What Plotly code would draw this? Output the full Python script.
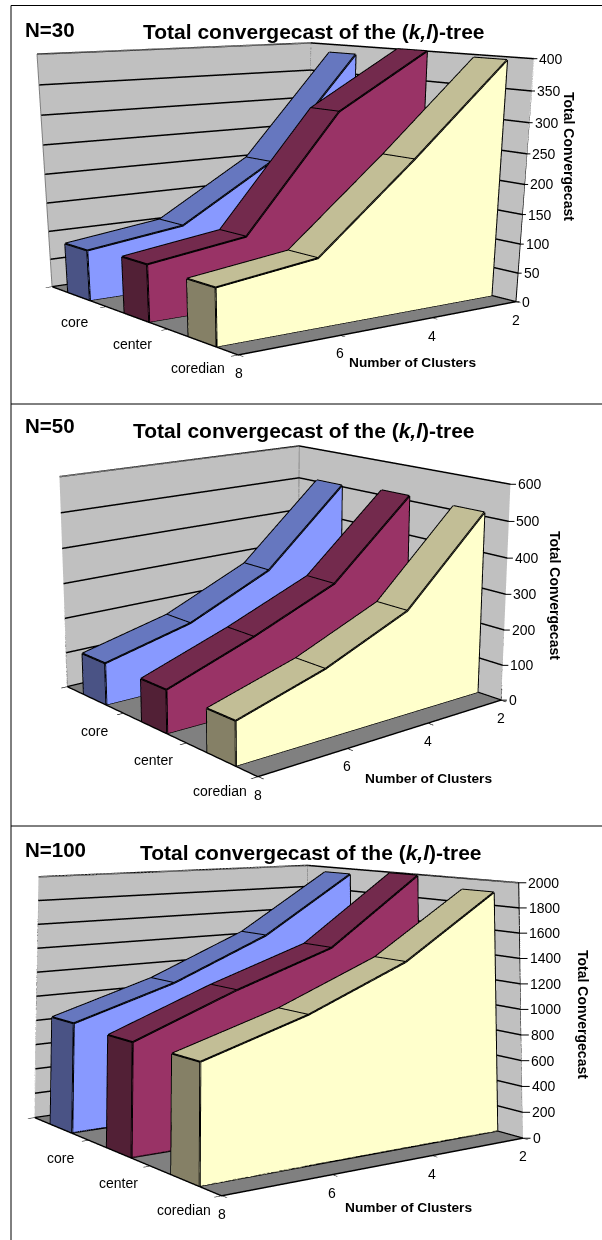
import plotly.graph_objects as go

W, H = 602, 1240
FONT = "Liberation Sans"

k_values = [2, 4, 6, 8]
series_names = ["core", "center", "coredian"]

n30_core = [385, 205, 109, 87]
n30_center = [400, 309, 118, 95]
n30_coredian = [395, 250, 113, 92]
n30_ticks = [0, 50, 100, 150, 200, 250, 300, 350, 400]

n50_core = [504, 286, 178, 118]
n50_center = [514, 302, 204, 118]
n50_coredian = [511, 286, 186, 115]
n50_ticks = [0, 100, 200, 300, 400, 500, 600]

n100_core = [1950, 1450, 1110, 863]
n100_center = [1990, 1430, 1160, 850]
n100_coredian = [1905, 1410, 1090, 850]
n100_ticks = [0, 200, 400, 600, 800, 1000, 1200, 1400, 1600, 1800, 2000]

FRONT = ["#8899FF", "#993366", "#FFFFCC"]
TOP = ["#6677BF", "#732A4D", "#C2BE96"]
END = ["#4A5385", "#522036", "#858066"]

X_RANGE = [1.99, 8.01]
Y_RANGE = [0, 3]

panels = [
    dict(name="scene", label="N=30", values=[n30_core, n30_center, n30_coredian], ticks=n30_ticks,
         dom_x=[0, 540 / W], dom_y=[(H - 1130) / H, 1], aspect=(1, 0.9907, 0.6709),
         eye=(2.4477, 3.2658, 0.5779), center=(0.2909, 0.349, -1.0259),
         title=(313.6, 32), tag=(23, 29), xt=(412.8, 362), zt=(569, 156), lab_shift=(-4, -26), tick_gap=4),
    dict(name="scene2", label="N=50", values=[n50_core, n50_center, n50_coredian], ticks=n50_ticks,
         dom_x=[0, 540 / W], dom_y=[(H - 1145) / H, 1], aspect=(1, 0.9958, 0.6994),
         eye=(2.7304, 3.2595, 1.1133), center=(0.0198, -0.0326, 0.0505),
         title=(304, 430.7), tag=(23, 426), xt=(428, 778), zt=(555, 595), lab_shift=(-1, -32), tick_gap=6),
    dict(name="scene3", label="N=100", values=[n100_core, n100_center, n100_coredian], ticks=n100_ticks,
         dom_x=[0, 550 / W], dom_y=[0, 1], aspect=(1, 1.0103, 0.7017),
         eye=(2.5318, 3.6202, 0.6518), center=(0.0581, 0.0993, 1.0999),
         title=(311.4, 852.7), tag=(23, 849), xt=(408.6, 1207), zt=(583, 1014), lab_shift=(-1, -30), tick_gap=8),
]

fig = go.Figure()
paper_ann = []


def ribbon(values, index, scene):
    y0, y1 = index + 0.3, index + 0.7
    n = len(k_values)
    xs, ys, zs, ii, jj, kk, colors = [], [], [], [], [], [], []

    def quad(a, b, c, d, col):
        base = len(xs)
        for p in (a, b, c, d):
            xs.append(p[0]); ys.append(p[1]); zs.append(p[2])
        ii.extend([base, base]); jj.extend([base + 1, base + 2]); kk.extend([base + 2, base + 3])
        colors.extend([col, col])

    for m in range(n - 1):
        ka, kb, va, vb = k_values[m], k_values[m + 1], values[m], values[m + 1]
        quad((ka, y1, 0), (kb, y1, 0), (kb, y1, vb), (ka, y1, va), FRONT[index])
        quad((ka, y0, 0), (kb, y0, 0), (kb, y0, vb), (ka, y0, va), FRONT[index])
        quad((ka, y0, va), (kb, y0, vb), (kb, y1, vb), (ka, y1, va), TOP[index])
    quad((k_values[-1], y0, 0), (k_values[-1], y1, 0), (k_values[-1], y1, values[-1]), (k_values[-1], y0, values[-1]), END[index])
    quad((k_values[0], y0, 0), (k_values[0], y1, 0), (k_values[0], y1, values[0]), (k_values[0], y0, values[0]), FRONT[index])
    fig.add_trace(go.Mesh3d(x=xs, y=ys, z=zs, i=ii, j=jj, k=kk, facecolor=colors, flatshading=True,
                            lighting=dict(ambient=1, diffuse=0, specular=0, roughness=1, fresnel=0),
                            hoverinfo="skip", showscale=False, scene=scene))
    lx, ly, lz = [], [], []

    def seg(points):
        for p in points:
            lx.append(p[0]); ly.append(p[1]); lz.append(p[2])
        lx.append(None); ly.append(None); lz.append(None)

    seg([(k_values[0], y1, 0), (k_values[-1], y1, 0)])
    seg([(k, y1, v) for k, v in zip(k_values, values)])
    seg([(k, y0, v) for k, v in zip(k_values, values)])
    for k, v in zip(k_values, values):
        seg([(k, y0, v), (k, y1, v)])
    seg([(k_values[0], y1, 0), (k_values[0], y1, values[0])])
    seg([(k_values[0], y0, 0), (k_values[0], y0, values[0])])
    seg([(k_values[-1], y1, 0), (k_values[-1], y1, values[-1])])
    seg([(k_values[-1], y0, 0), (k_values[-1], y0, values[-1])])
    seg([(k_values[-1], y0, 0), (k_values[-1], y1, 0)])
    fig.add_trace(go.Scatter3d(x=lx, y=ly, z=lz, mode="lines", line=dict(color="black", width=4),
                               hoverinfo="skip", showlegend=False, scene=scene))


for p in panels:
    top = p["ticks"][-1]
    for i, vals in enumerate(p["values"]):
        ribbon(vals, i, p["name"])
    xa, xb = X_RANGE
    wx = [xb, xa, None, xa, xa, None, xa, xa, None, xb, xb]
    wy = [0, 0, None, 0, 3, None, 0, 0, None, 0, 0]
    wz = [top, top, None, top, top, None, 0, top, None, 0, top]
    fig.add_trace(go.Scatter3d(x=wx, y=wy, z=wz, mode="lines", line=dict(color="#808080", width=2),
                               hoverinfo="skip", showlegend=False, scene=p["name"]))
    fig.add_trace(go.Scatter3d(x=[xa, xa], y=[3, 3], z=[0, top], mode="lines", line=dict(color="black", width=2),
                               hoverinfo="skip", showlegend=False, scene=p["name"]))
    anns = []
    for k in k_values:
        anns.append(dict(x=k, y=3, z=0, text=str(k), showarrow=False, yshift=-18,
                         font=dict(family=FONT, size=14, color="black")))
    for i, s in enumerate(series_names):
        anns.append(dict(x=8, y=i + 0.5, z=0, text=s, showarrow=False,
                         xshift=p["lab_shift"][0], yshift=p["lab_shift"][1],
                         font=dict(family=FONT, size=14, color="black")))
    for t in p["ticks"]:
        anns.append(dict(x=2, y=3, z=t, text=str(t), showarrow=True, arrowhead=0, arrowwidth=1,
                         arrowcolor="black", ax=p["tick_gap"], ay=0, xanchor="left",
                         font=dict(family=FONT, size=14, color="black")))
    axis = dict(showbackground=True, backgroundcolor="#C0C0C0", showgrid=False, zeroline=False,
                showspikes=False, showticklabels=False, title=dict(text=""), ticks="outside",
                ticklen=6, tickcolor="black", tickwidth=2, showline=True, linecolor="black", linewidth=3)
    scene_layout = dict(
        domain=dict(x=p["dom_x"], y=p["dom_y"]),
        aspectmode="manual",
        aspectratio=dict(x=p["aspect"][0], y=p["aspect"][1], z=p["aspect"][2]),
        camera=dict(eye=dict(zip("xyz", p["eye"])), center=dict(zip("xyz", p["center"])),
                    up=dict(x=0, y=0, z=1), projection=dict(type="perspective")),
        bgcolor="rgba(0,0,0,0)",
        xaxis=dict(axis, range=X_RANGE, tickvals=k_values),
        yaxis=dict(axis, range=Y_RANGE, tickvals=[0, 1, 2, 3]),
        zaxis=dict(axis, range=[0, top], tickvals=p["ticks"], showgrid=True, gridcolor="black", gridwidth=3,
                   ticks="", showline=False),
        annotations=anns,
    )
    scene_layout["zaxis"]["backgroundcolor"] = "#808080"
    fig.update_layout({p["name"]: scene_layout})

    def px(x, y):
        return x / W, 1 - y / H

    common = dict(xref="paper", yref="paper", showarrow=False, xanchor="center", yanchor="middle")
    tx, ty = px(*p["title"])
    paper_ann.append(dict(common, x=tx, y=ty,
                          text="<b>Total convergecast of the (<i>k,l</i>)-tree</b>",
                          font=dict(family=FONT, size=21, color="black")))
    tx, ty = px(*p["tag"])
    paper_ann.append(dict(common, x=tx, y=ty, xanchor="left",
                          text="<b>%s</b>" % p["label"], font=dict(family=FONT, size=20.5, color="black")))
    tx, ty = px(*p["xt"])
    paper_ann.append(dict(common, x=tx, y=ty,
                          text="<b>Number of Clusters</b>", font=dict(family=FONT, size=13.7, color="black")))
    tx, ty = px(*p["zt"])
    paper_ann.append(dict(common, x=tx, y=ty, textangle=90,
                          text="<b>Total Convergecast</b>", font=dict(family=FONT, size=14, color="black")))

frame = [
    dict(type="line", xref="paper", yref="paper", x0=11 / W, x1=1, y0=1 - 5.5 / H, y1=1 - 5.5 / H),
    dict(type="line", xref="paper", yref="paper", x0=11 / W, x1=1, y0=1 - 404 / H, y1=1 - 404 / H),
    dict(type="line", xref="paper", yref="paper", x0=11 / W, x1=1, y0=1 - 826 / H, y1=1 - 826 / H),
    dict(type="line", xref="paper", yref="paper", x0=11 / W, x1=11 / W, y0=0, y1=1 - 5.5 / H),
]
for s in frame:
    s["line"] = dict(color="black", width=1)

fig.update_layout(width=W, height=H, margin=dict(l=0, r=0, t=0, b=0), paper_bgcolor="white",
                  showlegend=False, annotations=paper_ann, shapes=frame)
fig.write_html("out.html", config=dict(displayModeBar=False),
               post_script="document.body.style.margin='0';")
